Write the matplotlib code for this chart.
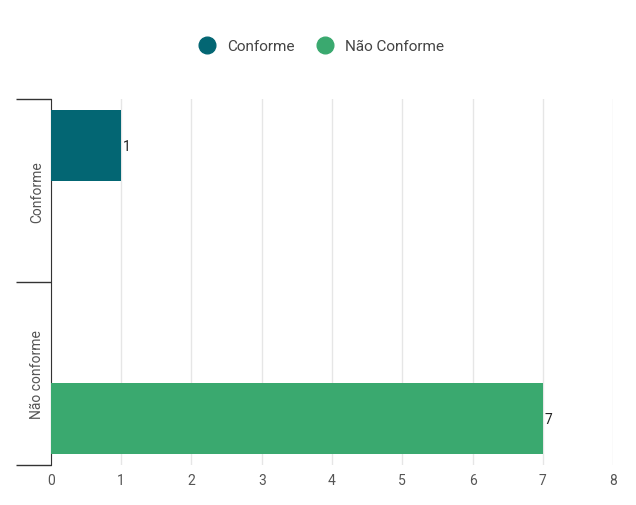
import matplotlib
matplotlib.use("Agg")
import matplotlib.pyplot as plt
from matplotlib.lines import Line2D

plt.rcParams["font.family"] = ["Roboto", "DejaVu Sans"]

categories = ["Conforme", "Não conforme"]
series_names = ["Conforme", "Não Conforme"]
series_values = [[1, 0], [0, 7]]
colors = ["#036673", "#3aa96f"]

fig = plt.figure(figsize=(6.36, 5.06), dpi=100)
ax = fig.add_axes([0.080, 0.079, 0.884, 0.723])

bar_h = 0.39
offsets = [-0.246, 0.246]
for name, vals, col, off in zip(series_names, series_values, colors, offsets):
    for i, v in enumerate(vals):
        if v == 0:
            continue
        ax.barh(i + off, v, height=bar_h, color=col, zorder=3)
        ax.text(v + 0.03, i + off, str(v), va="center", ha="left", fontsize=10, color="#222222")

ax.set_xlim(0, 8)
ax.set_ylim(1.5, -0.5)
ax.set_xticks(range(0, 9))
ax.tick_params(axis="x", length=0, labelsize=10, labelcolor="#555555", pad=6)
ax.xaxis.grid(True, color="#e6e6e6", linewidth=1, zorder=0)

ax.set_yticks([-0.5, 0.5, 1.5])
ax.set_yticklabels([])
ax.tick_params(axis="y", length=25, color="#333333", width=1)
for i, c in enumerate(categories):
    ax.text(-0.2, i, c, rotation=90, ha="center", va="center", fontsize=10,
            color="#555555", transform=ax.get_yaxis_transform() if False else ax.transData)

for s in ["top", "right", "bottom"]:
    ax.spines[s].set_visible(False)
ax.spines["left"].set_color("#333333")

handles = [Line2D([], [], marker="o", linestyle="", markersize=12, color=c) for c in colors]
fig.legend(handles, series_names, loc="center", bbox_to_anchor=(0.5, 0.907), ncol=2,
           frameon=False, fontsize=11, handletextpad=0.3, columnspacing=1.0,
           labelcolor="#444444")

fig.savefig("out.png", dpi=100, facecolor="white")
